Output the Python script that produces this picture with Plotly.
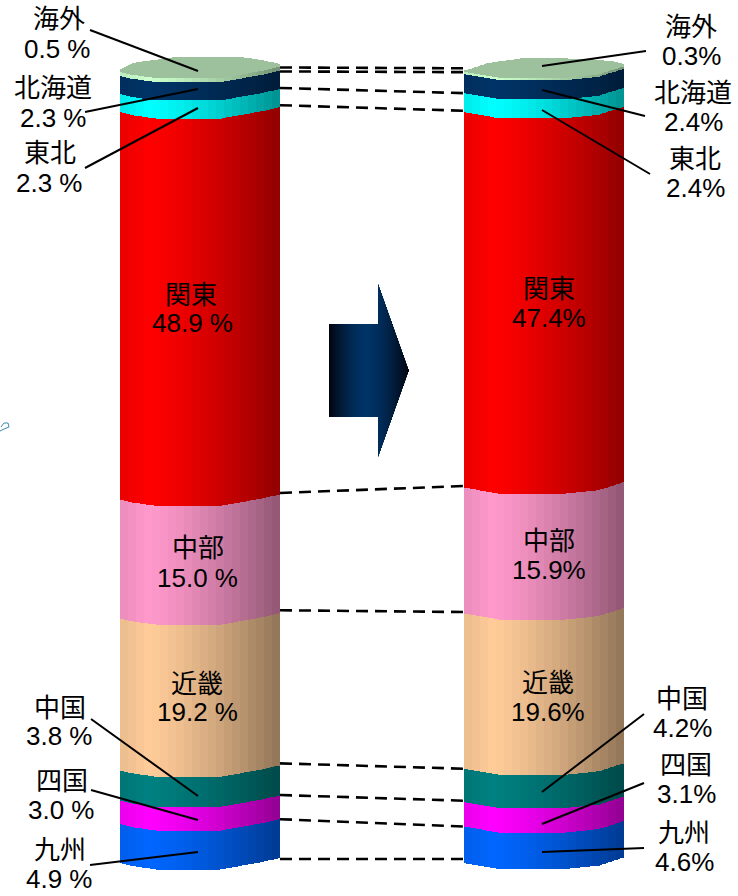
import numpy as np
import plotly.graph_objects as go

# Regional shares, listed from the bottom of each column upward
regions = ["九州", "四国", "中国", "近畿", "中部", "関東", "東北", "北海道", "海外"]
share_before = [4.9, 3.0, 3.8, 19.2, 15.0, 48.9, 2.3, 2.3, 0.5]
share_after = [4.6, 3.1, 4.2, 19.6, 15.9, 47.4, 2.4, 2.4, 0.3]
region_colors = ["#0066FF", "#FF00FF", "#008080", "#FFCC99", "#FF99CC",
                 "#FF0000", "#00FFFF", "#003366", "#CCFFCC"]
CAP_COLOR = "#9DC09D"

W, H = 738, 896
PX_PER_PCT = 7.92
ZERO_PX = 860.0
COL_W = 160
STRIP = 2


def to_val(px):
    return (ZERO_PX - px) / PX_PER_PCT


def shade(hex_color, t):
    # Light falls from the left: brightest near 15 % of the width, dim on the right
    t = np.floor(t * 20) / 20
    f = 0.93 + 0.07 * t / 0.15 if t < 0.15 else 1.0 - 0.45 * ((t - 0.15) / 0.85) ** 1.3
    r, g, b = (int(hex_color[i:i + 2], 16) for i in (1, 3, 5))
    return f"rgb({r * f:.0f},{g * f:.0f},{b * f:.0f})"


def column(left, shares, front_knots, back_knots):
    """One faceted cylinder built of narrow vertical strips."""
    xs = left + STRIP / 2 + np.arange(0, COL_W, STRIP)
    rel = xs - left
    front = np.interp(rel, *zip(*front_knots)) / PX_PER_PCT
    back = np.interp(rel, *zip(*back_knots)) / PX_PER_PCT
    cum = np.concatenate([[0], np.cumsum(shares)])
    traces = []
    for i, (val, col) in enumerate(zip(shares, region_colors)):
        traces.append(go.Bar(
            x=xs, y=[val] * len(xs), base=cum[i] - front, width=STRIP,
            marker=dict(color=[shade(col, r / COL_W) for r in rel], line=dict(width=0)),
            hoverinfo="skip", showlegend=False))
    # Top face of the cylinder
    traces.append(go.Bar(
        x=xs, y=front - back, base=cum[-1] - front, width=STRIP,
        marker=dict(color=CAP_COLOR, line=dict(width=0)),
        hoverinfo="skip", showlegend=False))
    return traces, cum


fig = go.Figure()
tr1, cum1 = column(120, share_before,
                   [(0, 3), (12, 6), (37, 9.5), (100, 9.5), (120, 6), (142, 2), (160, -2)],
                   [(0, 1), (13, -6), (57, -12), (120, -12), (140, -9), (160, -5)])
tr2, cum2 = column(464, share_after,
                   [(0, 3), (35, 9), (102, 9), (135, 5.5), (160, -2.5)],
                   [(0, 2), (25, -6), (62, -11), (122, -10), (152, -7), (160, -5)])
fig.add_traces(tr1 + tr2)

# Dashed connectors between matching boundaries of the two columns; the nudges
# (pixels, positive downward) follow where each boundary meets the column edge
nudge_left = [-1, -2, -2.4, -4, -5, -3.5, -4, -3, -1.3, -1.3]
nudge_right = [-1, 3, 1.7, 3, 1.5, 1.4, 1.6, 3, 1, -0.5]
for a, b, na, nb in zip(cum1, cum2, nudge_left, nudge_right):
    fig.add_trace(go.Scatter(
        x=[280, 464], y=[a - na / PX_PER_PCT, b - nb / PX_PER_PCT], mode="lines",
        line=dict(color="black", width=2.6, dash="12px,7px"),
        hoverinfo="skip", showlegend=False))

shapes = []

# Block arrow, drawn in one-pixel columns for its horizontal gradient
for x in range(329, 409):
    t = abs(x + 0.5 - 366) / (43 if x >= 366 else 37)
    k = max(0.0, 1 - t ** 1.6)
    color = f"rgb({2 * (1 - k):.0f},{4 + 47 * k:.0f},{14 + 88 * k:.0f})"
    if x < 378:
        y0, y1 = 324, 417
    else:
        d = (x + 0.5 - 378) / 31 * 87.5
        y0, y1 = 283 + d, 458 - d
    shapes.append(dict(type="rect", xref="x", yref="y", x0=x, x1=x + 1,
                       y0=to_val(y1), y1=to_val(y0),
                       fillcolor=color, line=dict(width=0)))

# Leader lines from outside labels into their bands
leaders = [
    (90, 30, 198, 71), (85, 112, 198, 89), (85, 168, 198, 108),
    (91, 719, 198, 796), (91, 790, 198, 820), (90, 865, 198, 852),
    (646, 51, 542, 66), (645, 116, 542, 90), (650, 174, 542, 110),
    (644, 714, 542, 792), (644, 783, 542, 824), (644, 848, 542, 852),
]
for x0, y0, x1, y1 in leaders:
    shapes.append(dict(type="line", xref="x", yref="y", x0=x0, x1=x1,
                       y0=to_val(y0), y1=to_val(y1),
                       line=dict(color="black", width=2)))

# Small stray outline at the left edge
shapes.append(dict(type="path", xref="x", yref="y",
                   path=(f"M 0 {to_val(431):.3f} L 4 {to_val(429):.3f} L 9 {to_val(427):.3f} "
                         f"L 8 {to_val(423):.3f} L 4 {to_val(423):.3f} L 1 {to_val(427):.3f}"),
                   fillcolor="white", line=dict(color="#3f86ad", width=1)))

# name position and value position per region, bottom to top
pos_before = [(60, 850, 59, 879), (62, 781, 61, 810), (60, 708, 59, 736),
              (197, 684, 197, 712), (198, 548, 197, 578), (191, 295, 192, 323),
              (50, 153, 49, 183), (53, 88, 53, 118), (59, 19, 57, 49)]
pos_after = [(684, 833, 684, 862), (686, 765, 686, 794), (682, 699, 682, 728),
             (548, 683, 548, 712), (549, 541, 549, 570), (549, 289, 549, 318),
             (695, 159, 695, 188), (693, 93, 693, 122), (691, 27, 691, 56)]

annotations = []
FONT = dict(family="Liberation Sans, Noto Sans CJK JP, sans-serif", size=26, color="black")


def add_labels(shares, positions, fmt):
    for name, val, (nx, ny, vx, vy) in zip(regions, shares, positions):
        for text, x, y in ((name, nx, ny), (fmt.format(val), vx, vy)):
            annotations.append(dict(text=text, x=x, y=to_val(y), xref="x", yref="y",
                                    showarrow=False, font=FONT,
                                    xanchor="center", yanchor="middle"))


add_labels(share_before, pos_before, "{:.1f} %")
add_labels(share_after, pos_after, "{:.1f}%")

fig.update_layout(
    width=W, height=H, margin=dict(l=0, r=0, t=0, b=0),
    paper_bgcolor="white", plot_bgcolor="white",
    barmode="overlay", bargap=0, showlegend=False,
    xaxis=dict(range=[0, W], visible=False, fixedrange=True),
    yaxis=dict(range=[to_val(H), to_val(0)], visible=False, fixedrange=True),
    shapes=shapes, annotations=annotations,
)

fig.write_html("out.html", config=dict(displayModeBar=False))
